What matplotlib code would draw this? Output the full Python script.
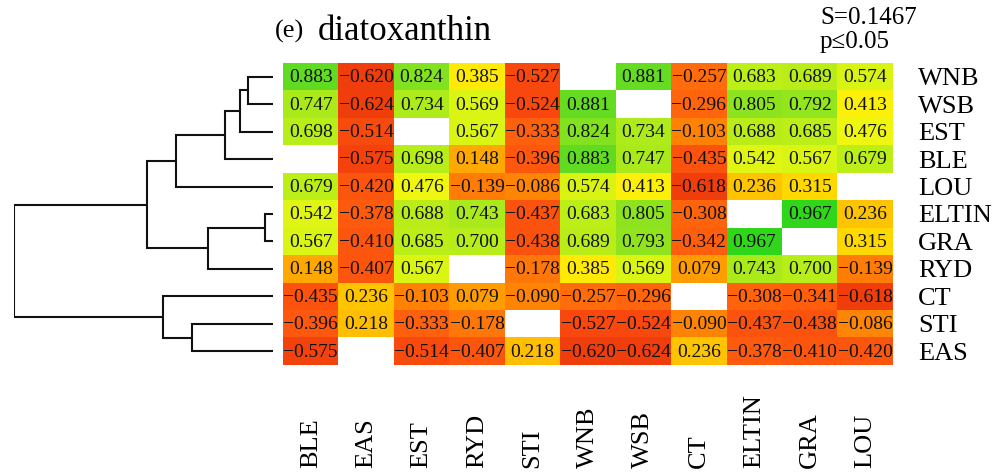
"""
Heatmap mit Dendrogramm (diatoxanthin), nachgebaut mit matplotlib.
"""

import matplotlib
matplotlib.use("Agg")
import matplotlib.pyplot as plt
import matplotlib.transforms as mtrans
import numpy as np
from matplotlib.colors import LinearSegmentedColormap

# ── Daten ─────────────────────────────────────────────────────────────────────

row_labels = ["WNB", "WSB", "EST", "BLE", "LOU", "ELTIN", "GRA", "RYD", "CT", "STI", "EAS"]
col_labels = ["BLE", "EAS", "EST", "RYD", "STI", "WNB", "WSB", "CT", "ELTIN", "GRA", "LOU"]

nan = np.nan
values = np.array([
    [0.883, -0.620, 0.824, 0.385, -0.527, nan, 0.881, -0.257, 0.683, 0.689, 0.574],
    [0.747, -0.624, 0.734, 0.569, -0.524, 0.881, nan, -0.296, 0.805, 0.792, 0.413],
    [0.698, -0.514, nan, 0.567, -0.333, 0.824, 0.734, -0.103, 0.688, 0.685, 0.476],
    [nan, -0.575, 0.698, 0.148, -0.396, 0.883, 0.747, -0.435, 0.542, 0.567, 0.679],
    [0.679, -0.420, 0.476, -0.139, -0.086, 0.574, 0.413, -0.618, 0.236, 0.315, nan],
    [0.542, -0.378, 0.688, 0.743, -0.437, 0.683, 0.805, -0.308, nan, 0.967, 0.236],
    [0.567, -0.410, 0.685, 0.700, -0.438, 0.689, 0.793, -0.342, 0.967, nan, 0.315],
    [0.148, -0.407, 0.567, nan, -0.178, 0.385, 0.569, 0.079, 0.743, 0.700, -0.139],
    [-0.435, 0.236, -0.103, 0.079, -0.090, -0.257, -0.296, nan, -0.308, -0.341, -0.618],
    [-0.396, 0.218, -0.333, -0.178, nan, -0.527, -0.524, -0.090, -0.437, -0.438, -0.086],
    [-0.575, nan, -0.514, -0.407, 0.218, -0.620, -0.624, 0.236, -0.378, -0.410, -0.420],
])

# Dendrogramm: (Kind A, Kind B, Hoehe) – Kinder sind Blattnamen oder Cluster-Indizes
merges = [
    ("WNB", "WSB", 25),
    (0, "EST", 33),
    (1, "BLE", 48),
    (2, "LOU", 97),
    ("ELTIN", "GRA", 8),
    (4, "RYD", 65),
    (3, 5, 126),
    ("STI", "EAS", 81),
    ("CT", 7, 110),
    (6, 8, 259),
]

title_tag = "(e)"
title_text = "diatoxanthin"
stat_text = "S=0.1467\np\u22640.05"

# ── Stil ──────────────────────────────────────────────────────────────────────

plt.rcParams["font.family"] = ["Liberation Serif", "DejaVu Serif"]

vmin, vmax = -0.65, 0.97
# Farbstuetzstellen in Datenwerten (rot -> orange -> gelb -> gruen)
anchors = [
    (-0.65, "#ec3a0a"),
    (-0.55, "#f8460e"),
    (-0.35, "#ff5e0e"),
    (-0.15, "#ff7c08"),
    (0.00, "#ff9200"),
    (0.15, "#ffa800"),
    (0.25, "#ffc800"),
    (0.33, "#ffdc00"),
    (0.40, "#ffee08"),
    (0.48, "#eef812"),
    (0.60, "#d4f414"),
    (0.75, "#aaea1c"),
    (0.88, "#66dc22"),
    (0.97, "#30d61a"),
]
cmap = LinearSegmentedColormap.from_list(
    "ryg", [((v - vmin) / (vmax - vmin), c) for v, c in anchors]
)
cmap.set_bad("white")

W, H = 1002, 474
fig = plt.figure(figsize=(W / 100, H / 100), dpi=100)

hm_l, hm_r, hm_t, hm_b = 283, 893, 63, 365
ax = fig.add_axes([hm_l / W, 1 - hm_b / H, (hm_r - hm_l) / W, (hm_b - hm_t) / H])
ax.imshow(np.ma.masked_invalid(values), cmap=cmap, vmin=vmin, vmax=vmax,
          aspect="auto", interpolation="nearest")
for i in range(values.shape[0]):
    for j in range(values.shape[1]):
        v = values[i, j]
        if np.isnan(v):
            continue
        s = f"{v:.3f}".replace("-", "\u2212")
        ax.text(j, i + 0.03, s, ha="center", va="center", fontsize=14, color="#111111")

ax.set_xticks([])
ax.set_yticks(range(len(row_labels)))
ax.set_yticklabels(row_labels, fontsize=19)
ax.yaxis.tick_right()
ax.tick_params(axis="y", length=0, pad=18)
for sp in ax.spines.values():
    sp.set_visible(False)

# Spaltenbeschriftung unten, rotiert, unten buendig
col_tf = mtrans.blended_transform_factory(ax.transData, fig.transFigure)
for j, lab in enumerate(col_labels):
    ax.text(j, 6 / H, lab, rotation=90, ha="center", va="bottom", fontsize=19,
            transform=col_tf)

# ── Dendrogramm ──────────────────────────────────────────────────────────────

dx_l, dx_r = 14, 273
dax = fig.add_axes([dx_l / W, 1 - hm_b / H, (dx_r - dx_l) / W, (hm_b - hm_t) / H])
pos = {}  # Knoten -> (y, Hoehe)
for k, lab in enumerate(row_labels):
    pos[lab] = (k, 0.0)
for c, (a, b, h) in enumerate(merges):
    ya, ha_ = pos[a]
    yb, hb = pos[b]
    dax.plot([ha_, h, h, hb], [ya, ya, yb, yb], color="#111111", lw=1.5,
             solid_joinstyle="miter", solid_capstyle="butt")
    pos[c] = ((ya + yb) / 2, h)
root_h = merges[-1][2]
dax.set_xlim(root_h, 0)
dax.set_ylim(len(row_labels) - 0.5, -0.5)
dax.axis("off")

# ── Titel ────────────────────────────────────────────────────────────────────

fig.text(275 / W, 1 - 31 / H, title_tag, fontsize=19, va="center", ha="left")
fig.text(318 / W, 1 - 31 / H, title_text, fontsize=25, va="center", ha="left")
fig.text(820 / W, 1 - 7 / H, stat_text, fontsize=18, va="top", ha="left", linespacing=1.1)

fig.savefig("out.png", dpi=100)
